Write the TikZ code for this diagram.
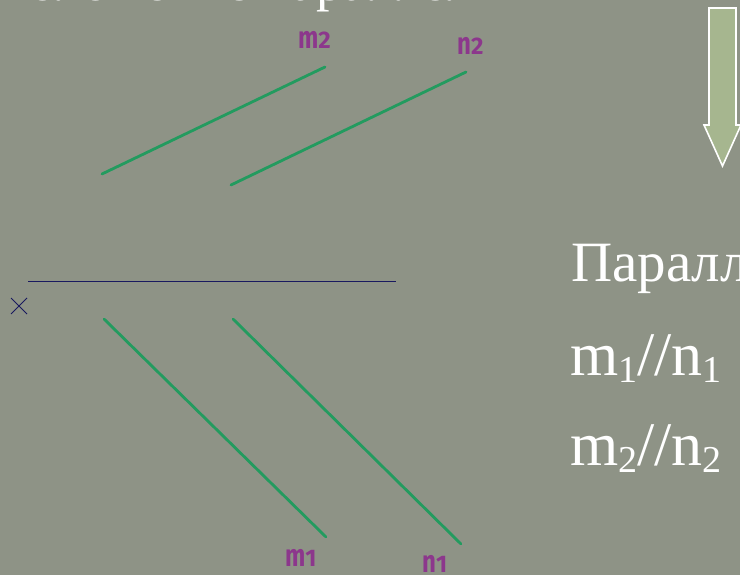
\documentclass[tikz,border=0pt]{standalone}
\usepackage{fontspec}
\setmainfont{Liberation Serif}
\newfontfamily\labelfont{Fira Sans}
\definecolor{bgc}{RGB}{142,147,134}
\definecolor{lgreen}{RGB}{35,155,95}
\definecolor{lpurple}{RGB}{140,55,140}
\definecolor{lnavy}{RGB}{25,25,95}
\definecolor{arrfill}{RGB}{166,182,143}
\newcommand{\sbx}[1]{\raisebox{-0.12em}{\fontsize{38}{38}\selectfont #1}}
\newcommand{\tall}[1]{\scalebox{1}[1.3]{#1}}
\tikzset{
  projline/.style={draw=lgreen, line width=2.8pt, line cap=round},
  axisline/.style={draw=lnavy, line width=0.8pt},
  lbl/.style={text=lpurple, font=\labelfont\bfseries\fontsize{24}{24}\selectfont, inner sep=0pt, anchor=base west},
  bigtext/.style={text=white, font=\fontsize{62}{62}\selectfont, inner sep=0pt, anchor=base west},
  blockarrow/.style={fill=arrfill, draw=white, line width=1.6pt, line join=miter}
}
\begin{document}
\begin{tikzpicture}[x=1pt,y=-1pt]
\useasboundingbox (0,0) rectangle (740,575);
\fill[bgc] (0,0) rectangle (740,575);
\clip (0,0) rectangle (740,575);
% clipped title
\node[bigtext, font=\fontsize{54}{54}\selectfont] (title) at (-10,0.6) {Положение параллельных};
% axis
\coordinate (ax1) at (28,281);
\coordinate (ax2) at (396,281);
\draw[axisline] (ax1) -- (ax2);
% x mark
\coordinate (xa) at (11,298);
\coordinate (xb) at (27,314);
\coordinate (xc) at (11,314);
\coordinate (xd) at (27,298);
\draw[lnavy, line width=0.9pt] (xa) -- (xb) (xc) -- (xd);
% upper projections
\coordinate (m2a) at (102,174);
\coordinate (m2b) at (325,67);
\coordinate (n2a) at (231,185);
\coordinate (n2b) at (466,72);
\draw[projline] (m2a) -- (m2b);
\draw[projline] (n2a) -- (n2b);
% lower projections
\coordinate (m1a) at (104,319);
\coordinate (m1b) at (326,537);
\coordinate (n1a) at (233,319);
\coordinate (n1b) at (461,544);
\draw[projline] (m1a) -- (m1b);
\draw[projline] (n1a) -- (n1b);
% labels
\node[lbl] (lm2) at (298,49) {\tall{m}2};
\node[lbl] (ln2) at (457,55) {\tall{n}2};
\node[lbl] (lm1) at (285,566) {\tall{m}1};
\node[lbl] (ln1) at (422,572) {\tall{n}1};
% right texts
\node[bigtext, font=\fontsize{57}{57}\selectfont] (t1) at (571,281) {Параллельные};
\node[bigtext] (t2) at (570,375) {m\sbx{1}//n\sbx{1}};
\node[bigtext] (t3) at (570,465) {m\sbx{2}//n\sbx{2}};
% block arrow
\draw[blockarrow] (709,8) -- (736,8) -- (736,125) -- (741,125) -- (722.5,166) -- (704,125) -- (709,125) -- cycle;
\end{tikzpicture}
\end{document}
